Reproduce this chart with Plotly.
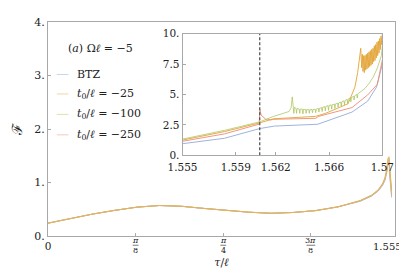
import plotly.graph_objects as go
import math

# ---------------- data ----------------
main_t = [0.0, 0.1, 0.2, 0.3, 0.4, 0.5, 0.6, 0.7, 0.8, 0.9, 1.0, 1.1, 1.2, 1.3,
          1.4, 1.45, 1.48, 1.5, 1.51, 1.518, 1.524, 1.528, 1.532, 1.536, 1.54]
main_btz = [0.24, 0.33, 0.41, 0.48, 0.54, 0.57, 0.555, 0.515, 0.475, 0.445, 0.425, 0.44, 0.475, 0.545,
            0.65, 0.745, 0.84, 0.95, 1.04, 1.18, 1.36, 1.38, 1.10, 0.85, 0.72]
main_m25 = [0.24, 0.33, 0.41, 0.48, 0.54, 0.57, 0.555, 0.515, 0.475, 0.445, 0.425, 0.44, 0.475, 0.545,
            0.665, 0.765, 0.865, 0.985, 1.09, 1.25, 1.46, 1.48, 1.25, 1.00, 0.85]
main_m100 = [0.24, 0.33, 0.41, 0.48, 0.54, 0.57, 0.555, 0.515, 0.475, 0.445, 0.425, 0.44, 0.475, 0.545,
             0.66, 0.758, 0.858, 0.975, 1.075, 1.23, 1.43, 1.45, 1.20, 0.95, 0.80]
main_m250 = [0.24, 0.33, 0.41, 0.48, 0.54, 0.57, 0.555, 0.515, 0.475, 0.445, 0.425, 0.44, 0.475, 0.545,
             0.655, 0.752, 0.85, 0.965, 1.06, 1.21, 1.40, 1.42, 1.15, 0.90, 0.76]

# inset: BTZ
in_btz_t = [1.555, 1.55816, 1.56081, 1.56191, 1.56515, 1.56772, 1.5689, 1.56956, 1.57]
in_btz_f = [0.95, 1.40, 2.20, 2.40, 2.55, 3.55, 4.45, 5.60, 7.50]

# inset: t0/l = -250
in_m250_t = [1.555, 1.55816, 1.56075, 1.56081, 1.5609, 1.56105, 1.56118, 1.5613, 1.56140, 1.5616,
             1.56184, 1.5625, 1.5635, 1.5645, 1.5650, 1.56522, 1.56772, 1.5689, 1.56963, 1.57]
in_m250_f = [1.15, 1.76, 2.56, 3.76, 3.30, 3.15, 3.05, 2.92, 2.98, 2.90,
             2.96, 2.97, 2.99, 3.01, 3.04, 3.20, 3.92, 4.96, 5.84, 7.84]

# inset: t0/l = -100
in_m100_t = [1.555, 1.55816, 1.56081, 1.56184, 1.5630, 1.56315, 1.56324, 1.56332, 1.56336, 1.56340,
             1.56352, 1.56356, 1.56360, 1.56376, 1.56380, 1.56384, 1.56400, 1.56404, 1.56408,
             1.56424, 1.56428, 1.56432, 1.56448, 1.56452, 1.56456, 1.56472, 1.56476, 1.56480,
             1.56496, 1.56500, 1.56504, 1.56520, 1.56524, 1.56528, 1.56544, 1.56548, 1.56552,
             1.56568, 1.56572, 1.56576, 1.56592, 1.56596, 1.56600, 1.56616, 1.56620, 1.56624,
             1.56640, 1.56644, 1.56648, 1.56664, 1.56668, 1.56672, 1.56688, 1.56692, 1.56696,
             1.56712, 1.56716, 1.56720, 1.56736, 1.56740, 1.56744, 1.56760, 1.56764, 1.56768,
             1.56784, 1.56788, 1.56792, 1.56808, 1.56812, 1.56816, 1.56840, 1.56870, 1.56900,
             1.56930, 1.56960, 1.56980, 1.56993, 1.57]
in_m100_f = [1.33, 2.05, 2.75, 3.20, 3.60, 3.90, 4.80, 3.95, 3.45, 3.95,
             3.85, 3.45, 3.85, 3.80, 3.45, 3.80, 3.78, 3.40, 3.78,
             3.76, 3.45, 3.76, 3.75, 3.45, 3.75, 3.76, 3.50, 3.76,
             3.78, 3.50, 3.80, 3.85, 3.55, 3.86, 3.92, 3.60, 3.94,
             4.00, 3.65, 4.02, 4.08, 3.70, 4.10, 4.14, 3.80, 4.16,
             4.20, 3.85, 4.22, 4.28, 3.95, 4.30, 4.38, 4.05, 4.40,
             4.48, 4.15, 4.50, 4.60, 4.25, 4.62, 4.72, 4.40, 4.75,
             4.85, 4.55, 4.88, 5.00, 4.70, 5.05, 5.25, 5.50, 5.90,
             6.40, 7.10, 7.70, 8.20, 9.04]

# inset: t0/l = -25
in_m25_t = [1.555, 1.55816, 1.56081, 1.56184, 1.5650, 1.56574, 1.56743, 1.56794, 1.56815, 1.56831,
            1.56838, 1.56845, 1.56850, 1.56855, 1.56860, 1.56865, 1.56870, 1.56875, 1.56880,
            1.56885, 1.56890, 1.56895, 1.56900, 1.56905, 1.56910, 1.56915, 1.56920, 1.56925,
            1.56930, 1.56935, 1.56940, 1.56945, 1.56950, 1.56955, 1.56960, 1.56965, 1.56970,
            1.56975, 1.56980, 1.56985, 1.56990, 1.56995, 1.57]
in_m25_f = [1.25, 1.95, 2.67, 3.00, 3.20, 3.45, 4.24, 5.60, 6.80, 8.20,
            8.80, 7.20, 8.30, 6.90, 8.20, 6.80, 8.20, 7.00, 8.30,
            7.10, 8.40, 7.20, 8.50, 7.30, 8.60, 7.40, 8.70, 7.50,
            8.80, 7.70, 9.00, 7.80, 9.10, 8.00, 9.30, 8.20, 9.40,
            8.40, 9.60, 8.70, 9.80, 9.10, 10.0]

tau_c = math.pi / 2 - 0.01
dash_f = [0, 10]

series_names = ["BTZ", "<i>t</i><sub>0</sub>/<i>ℓ</i> = −25",
                "<i>t</i><sub>0</sub>/<i>ℓ</i> = −100", "<i>t</i><sub>0</sub>/<i>ℓ</i> = −250"]
main_colors = ["#a9bde0", "#e8b060", "#bfcc78", "#f2a290"]
legend_colors = ["#c8d6ea", "#f4d4a6", "#dde2a8", "#f8c8bc"]
inset_colors = ["#93aad8", "#e3a436", "#a3c052", "#f08a70"]

main_x_ticks = [0, math.pi / 8, math.pi / 4, 3 * math.pi / 8, 1.555]
main_x_text = ["0", "", "", "", ""]
main_x_end_label = "1.555"
frac_x = [math.pi / 8, math.pi / 4, 3 * math.pi / 8]
frac_num = ["<i>π</i>", "<i>π</i>", "3<i>π</i>"]
frac_den = ["8", "4", "8"]
main_y_ticks = [0, 1, 2, 3, 4]
main_y_text = ["0.", "1.", "2.", "3.", "4."]
in_x_ticks = [1.555, 1.559, 1.562, 1.566, 1.57]
in_x_text = ["1.555", "1.559", "1.562", "1.566", "1.57"]
in_y_ticks = [0, 2.5, 5, 7.5, 10]
in_y_text = ["0.", "2.5", "5.", "7.5", "10."]

# ---------------- figure ----------------
W, H = 407, 271
L, R, T, B = 36, 15, 8, 43
PW, PH = W - L - R, H - T - B


def px(x):
    return (x - L) / PW


def py(y):
    return (H - B - y) / PH


FONT = "DejaVu Serif"
FS = 11
fig = go.Figure()

main_series = [main_btz, main_m25, main_m100, main_m250]
for i in [0, 3, 2, 1]:
    fig.add_trace(go.Scatter(x=main_t, y=main_series[i], mode="lines",
                             line=dict(color=main_colors[i], width=1),
                             name=series_names[i], showlegend=False,
                             xaxis="x", yaxis="y"))

inset_series = [(in_btz_t, in_btz_f), (in_m25_t, in_m25_f),
                (in_m100_t, in_m100_f), (in_m250_t, in_m250_f)]
inset_widths = [0.9, 0.9, 0.7, 0.9]
for i in [0, 3, 1, 2]:
    t, f = inset_series[i]
    fig.add_trace(go.Scatter(x=t, y=f, mode="lines",
                             line=dict(color=inset_colors[i], width=inset_widths[i]),
                             name=series_names[i], showlegend=False, xaxis="x2", yaxis="y2"))

fig.add_trace(go.Scatter(x=[tau_c, tau_c], y=dash_f, mode="lines",
                         line=dict(color="#555555", width=1.3, dash="3px,2px"),
                         showlegend=False, xaxis="x2", yaxis="y2"))

axis_common = dict(showgrid=False, zeroline=False, showline=True, linecolor="#a8a8a8",
                   linewidth=1, mirror=True, ticks="inside", tickcolor="#a8a8a8",
                   ticklen=3, tickwidth=1)

fig.update_layout(
    width=W, height=H,
    margin=dict(l=L, r=R, t=T, b=B),
    paper_bgcolor="white", plot_bgcolor="white",
    font=dict(family=FONT, size=FS, color="#222222"),
    showlegend=False,
    xaxis=dict(range=[0, 1.555], domain=[0, 1], tickvals=main_x_ticks, ticktext=main_x_text,
               tickfont=dict(size=10.5, family=FONT), anchor="y",
               title=dict(text="<i>τ</i>/<i>ℓ</i>", font=dict(size=FS, family=FONT), standoff=7),
               **axis_common),
    yaxis=dict(range=[0, 4], domain=[0, 1], tickvals=main_y_ticks, ticktext=main_y_text,
               tickfont=dict(size=FS, family=FONT), anchor="x",
               title=dict(text="ℱ", font=dict(size=14, family="DejaVu Serif"), standoff=8),
               **axis_common),
    xaxis2=dict(range=[1.555, 1.57], domain=[px(174), px(379)], tickvals=in_x_ticks,
                ticktext=in_x_text, tickfont=dict(size=10.5, family=FONT), anchor="y2",
                ticklabelstandoff=2, **axis_common),
    yaxis2=dict(range=[0, 10], domain=[py(145), py(20)], tickvals=in_y_ticks,
                ticktext=in_y_text, tickfont=dict(size=10.5, family=FONT), anchor="x2",
                **axis_common),
)

# end label of the main x axis (kept inside the page)
fig.add_annotation(x=px(401), y=py(239), xref="paper", yref="paper", xanchor="right",
                   yanchor="middle", showarrow=False, text=main_x_end_label,
                   font=dict(size=10, family=FONT))

# fraction tick labels of the main x axis
for i in range(3):
    fig.add_annotation(x=frac_x[i], y=py(233), xref="x", yref="paper", showarrow=False,
                       yanchor="middle", text=frac_num[i], font=dict(size=8, family=FONT))
    fig.add_annotation(x=frac_x[i], y=py(242.5), xref="x", yref="paper", showarrow=False,
                       yanchor="middle", text=frac_den[i], font=dict(size=8, family=FONT))
    half = (4.5 if i == 2 else 3.0) * 1.555 / PW
    fig.add_shape(type="line", xref="x", yref="paper", x0=frac_x[i] - half, x1=frac_x[i] + half,
                  y0=py(237.5), y1=py(237.5), line=dict(color="#222222", width=0.6))

# legend block (text + short samples, like the reference)
fig.add_annotation(x=px(54), y=py(35), xref="paper", yref="paper", xanchor="left",
                   yanchor="middle", showarrow=False, text="(<i>a</i>) Ω<i>ℓ</i> = −5",
                   font=dict(size=FS, family=FONT))
leg_y = [62, 82, 103, 124]
for i in range(4):
    fig.add_shape(type="line", xref="paper", yref="paper", x0=px(45), x1=px(57),
                  y0=py(leg_y[i]), y1=py(leg_y[i]),
                  line=dict(color=legend_colors[i], width=1))
    fig.add_annotation(x=px(64), y=py(leg_y[i]), xref="paper", yref="paper",
                       xanchor="left", yanchor="middle", showarrow=False,
                       text=series_names[i], font=dict(size=FS, family=FONT))

fig.write_html("out.html")
